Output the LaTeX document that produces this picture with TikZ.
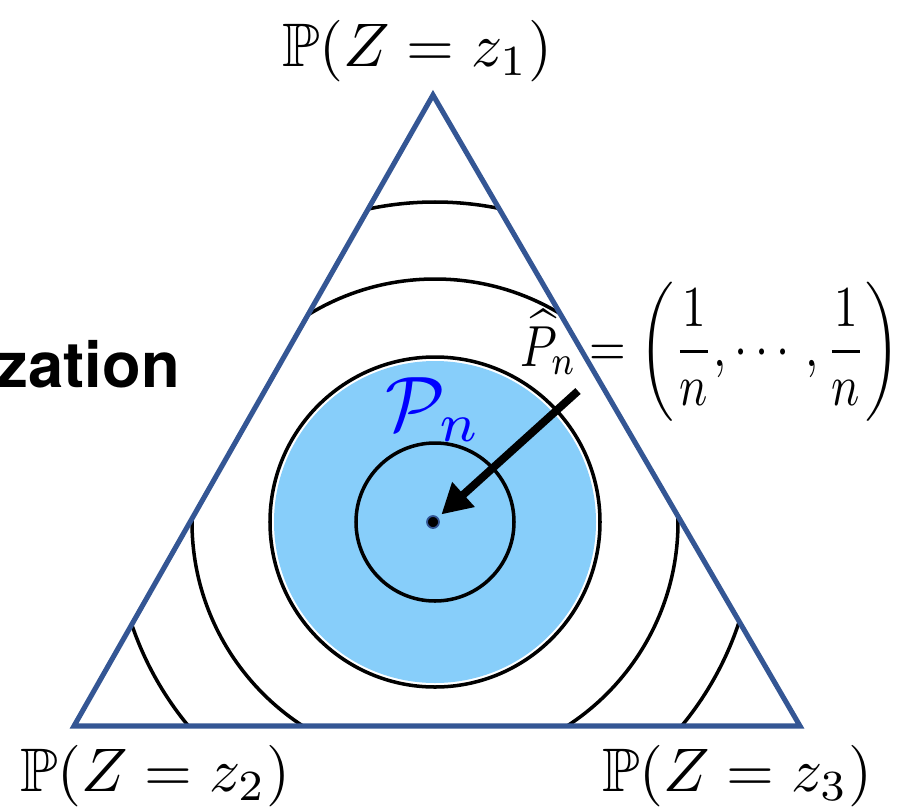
\documentclass[tikz,border=0pt]{standalone}
\usepackage{amsmath}
\usepackage{amssymb}
\usepackage{fontspec}
\newfontfamily\headfont{TeX Gyre Heros}
\usetikzlibrary{arrows.meta, positioning}
\definecolor{simplexblue}{RGB}{52,86,148}
\definecolor{ballfill}{RGB}{135,206,250}
\tikzset{
  simplexline/.style={draw=simplexblue, line width=2.9pt, line join=miter},
  ring/.style={draw=black, line width=2pt},
  problabel/.style={inner sep=0pt, anchor=base, scale=3.5, transform shape},
  pointer/.style={-{Triangle[length=17pt, width=18pt]}, line width=4.5pt,
    shorten >=2.5pt},
}

\begin{document}
\begin{tikzpicture}[x=0.02cm, y=-0.02cm]
  \useasboundingbox (0,0) rectangle (900,809);

  \coordinate (c)     at (435,522);
  \coordinate (top)   at (433,95);
  \coordinate (left)  at (74,726);
  \coordinate (right) at (800,726);

  % nested balls around the empirical point
  \fill[ballfill] (c) circle (161);
  \draw[ring] (c) circle (165);
  \draw[ring] (c) circle (79);
  \begin{scope}
    \clip (top) -- (left) -- (right) -- cycle;
    \draw[ring] (c) circle (243);
    \draw[ring] (c) circle (320);
  \end{scope}

  \node[inner sep=0pt, anchor=base east,
        font=\headfont\bfseries\fontsize{36}{40}\selectfont]
       (cut) at (180,387) {zation};

  \node[inner sep=0pt, anchor=base west, text=blue,
        scale=4.4, transform shape]
       (ballname) at (384,430) {$\mathcal{P}_n$};

  \node[inner sep=0pt, anchor=base west, xscale=2.68, yscale=3.3,
        transform shape]
       (center) at (520,366)
       {$\widehat{P}_n = \left(\dfrac{1}{n},\cdots,\dfrac{1}{n}\right)$};

  \node[problabel] (ptop)   at (417,66)  {$\mathbb{P}(Z = z_1)$};
  \node[problabel] (pleft)  at (155,791) {$\mathbb{P}(Z = z_2)$};
  \node[problabel] (pright) at (737,791) {$\mathbb{P}(Z = z_3)$};

  % the simplex
  \draw[simplexline] (top) -- (left) -- (right) -- cycle;

  \node[circle, fill=black, draw=simplexblue, line width=1pt,
        minimum size=0.24cm, inner sep=0pt] (dot) at (433,522) {};
  \coordinate (tail) at (578,391);
  \draw[pointer] (tail) -- (dot);
\end{tikzpicture}
\end{document}
